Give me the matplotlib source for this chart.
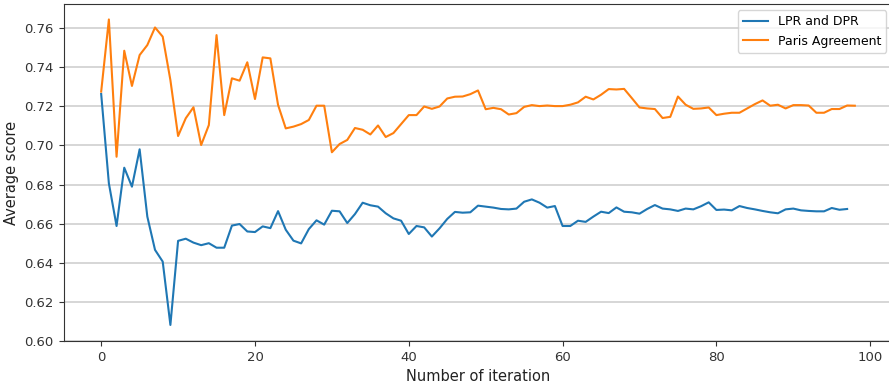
import matplotlib
matplotlib.use("Agg")
import matplotlib.pyplot as plt

# average score per iteration
lpr_dpr = [
    0.7263, 0.6806, 0.6588, 0.6886, 0.6789, 0.6980, 0.6636, 0.6466, 0.6406, 0.6082,
    0.6512, 0.6523, 0.6503, 0.6490, 0.6500, 0.6477, 0.6477, 0.6590, 0.6598, 0.6560,
    0.6557, 0.6586, 0.6577, 0.6664, 0.6569, 0.6513, 0.6499, 0.6572, 0.6617, 0.6595,
    0.6666, 0.6663, 0.6603, 0.6649, 0.6707, 0.6694, 0.6687, 0.6653, 0.6627, 0.6615,
    0.6547, 0.6588, 0.6581, 0.6534, 0.6576, 0.6624, 0.6660, 0.6656, 0.6658, 0.6692,
    0.6687, 0.6682, 0.6675, 0.6673, 0.6677, 0.6712, 0.6724, 0.6707, 0.6682, 0.6690,
    0.6588, 0.6588, 0.6615, 0.6609, 0.6636, 0.6661, 0.6654, 0.6683, 0.6661, 0.6658,
    0.6651, 0.6675, 0.6695, 0.6677, 0.6673, 0.6665, 0.6677, 0.6673, 0.6689, 0.6709,
    0.6670, 0.6672, 0.6668, 0.6690, 0.6680, 0.6673, 0.6665, 0.6658, 0.6653, 0.6673,
    0.6677, 0.6668, 0.6665, 0.6663, 0.6663, 0.6680, 0.6671, 0.6675,
]

paris = [
    0.7275, 0.7644, 0.6942, 0.7484, 0.7304, 0.7462, 0.7513, 0.7603, 0.7556, 0.7334,
    0.7048, 0.7139, 0.7195, 0.7002, 0.7104, 0.7564, 0.7155, 0.7343, 0.7331, 0.7425,
    0.7237, 0.7450, 0.7445, 0.7207, 0.7087, 0.7096, 0.7109, 0.7130, 0.7203, 0.7203,
    0.6965, 0.7007, 0.7028, 0.7089, 0.7080, 0.7056, 0.7102, 0.7043, 0.7063, 0.7109,
    0.7155, 0.7155, 0.7199, 0.7187, 0.7199, 0.7240, 0.7249, 0.7250, 0.7262, 0.7281,
    0.7185, 0.7192, 0.7185, 0.7158, 0.7165, 0.7197, 0.7206, 0.7201, 0.7204, 0.7201,
    0.7201, 0.7208, 0.7220, 0.7249, 0.7235, 0.7259, 0.7288, 0.7286, 0.7289, 0.7242,
    0.7194, 0.7189, 0.7186, 0.7140, 0.7146, 0.7250, 0.7208, 0.7187, 0.7189, 0.7194,
    0.7155, 0.7162, 0.7167, 0.7167, 0.7189, 0.7211, 0.7230, 0.7203, 0.7208, 0.7189,
    0.7206, 0.7206, 0.7204, 0.7167, 0.7167, 0.7186, 0.7186, 0.7204, 0.7203,
]

plt.rcParams['font.family'] = ['DejaVu Sans']

fig = plt.figure(figsize=(8.89, 3.85), dpi=100)
# axes slightly wider than the figure: the right spine is cut off in the reference
ax = fig.add_axes([63.5 / 889, 44 / 385, 829 / 889, 337 / 385])

ax.plot(range(len(lpr_dpr)), lpr_dpr, color='#1f77b4', lw=1.5, label='LPR and DPR')
ax.plot(range(len(paris)), paris, color='#ff7f0e', lw=1.5, label='Paris Agreement')

ax.set_xlim(-4.9, 102.9)
ax.set_ylim(0.600, 0.7723)
ax.set_xticks([0, 20, 40, 60, 80, 100])
ax.set_yticks([0.60, 0.62, 0.64, 0.66, 0.68, 0.70, 0.72, 0.74, 0.76])
ax.yaxis.set_major_formatter(matplotlib.ticker.FormatStrFormatter('%.2f'))
ax.tick_params(labelsize=9.5, color='#333333', labelcolor='#333333')

ax.grid(axis='y', color='#cfcfcf', lw=1.2)
ax.set_axisbelow(True)
for s in ax.spines.values():
    s.set_color('#333333')

ax.set_xlabel('Number of iteration', fontsize=10.5, color='#222222')
ax.set_ylabel('Average score', fontsize=10.5, color='#222222')
ax.legend(loc='upper right', fontsize=9)

fig.savefig('out.png', dpi=100)
